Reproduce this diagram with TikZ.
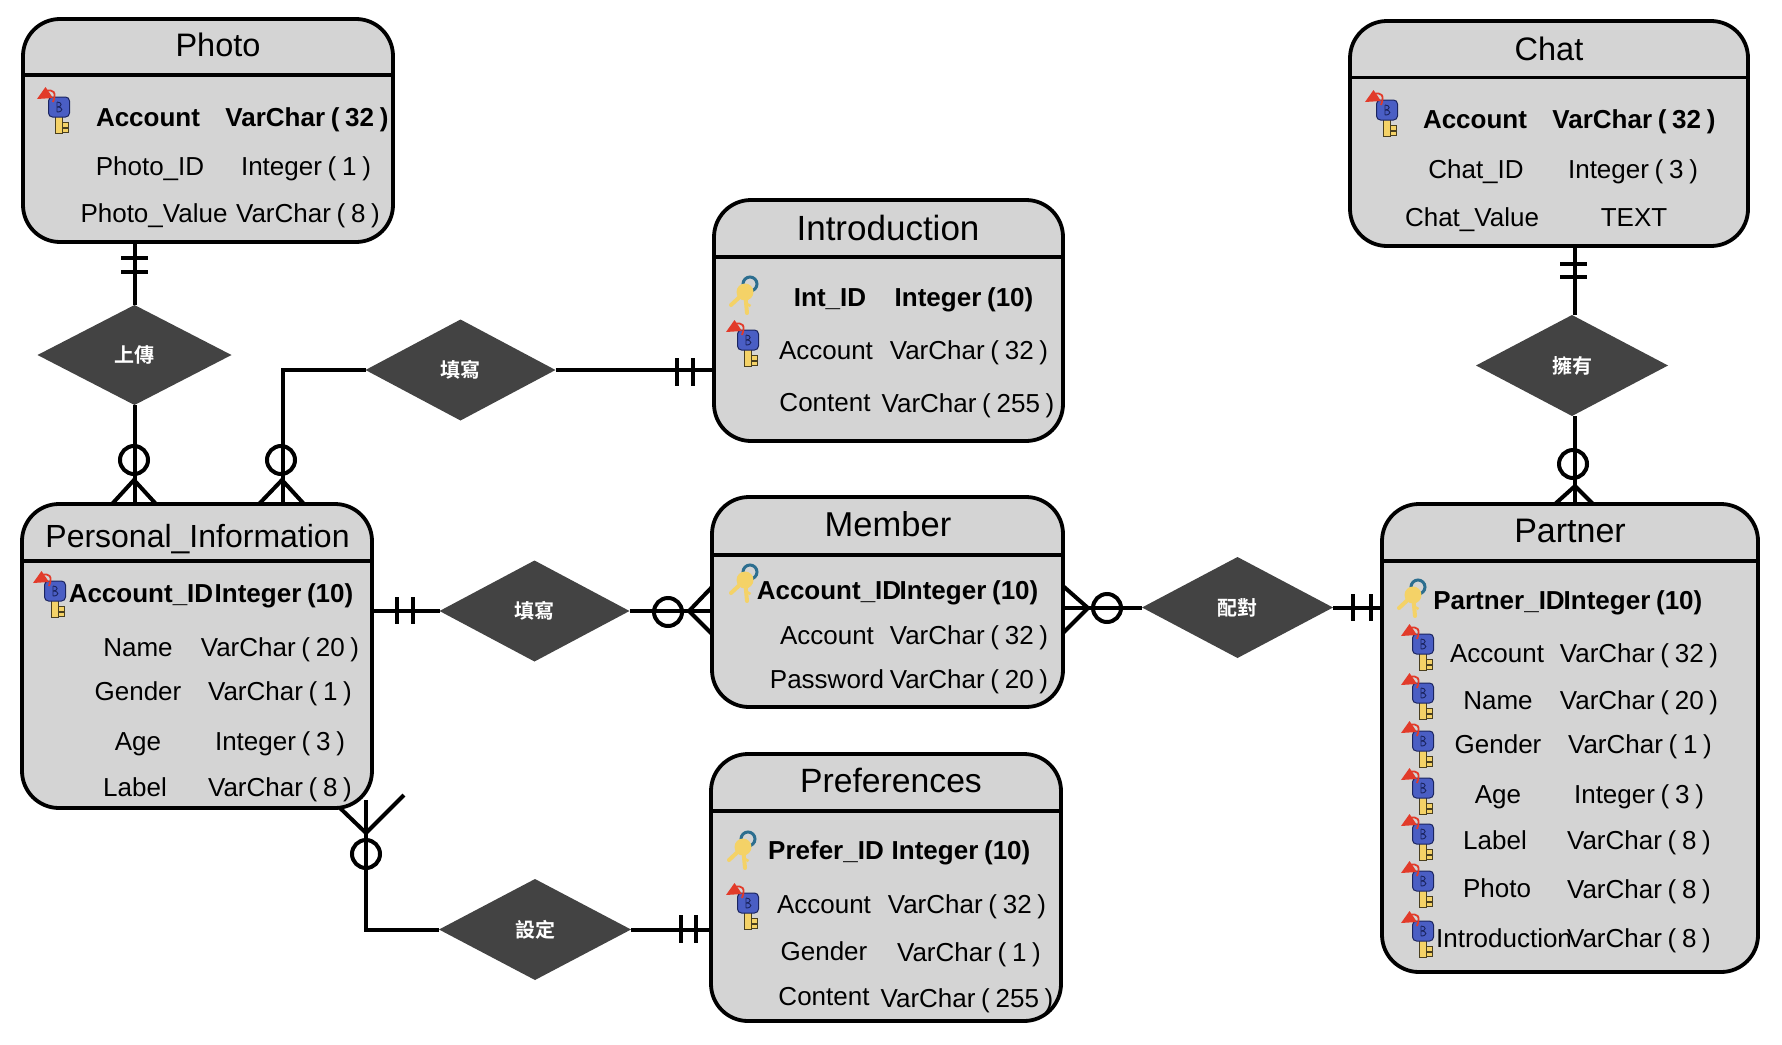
\documentclass[tikz,border=0pt]{standalone}
\usepackage{fontspec}
\setmainfont{Liberation Sans}
\newfontfamily\cjkfont{Noto Sans CJK TC}[BoldFont={* Bold}]
\usetikzlibrary{shapes.geometric}
\definecolor{boxgray}{HTML}{D4D4D4}
\definecolor{diagray}{HTML}{434343}
\definecolor{keyblue}{HTML}{4A5EC4}
\definecolor{keydark}{HTML}{1B2560}
\definecolor{keygold}{HTML}{F4D267}
\definecolor{keyred}{HTML}{E23B2A}
\definecolor{ringblue}{HTML}{2C6E8F}
\newcounter{tn}
\tikzset{
  x=1pt,y=-1pt,
  erbox/.style={draw=black,line width=3.8pt,fill=boxgray,rounded corners=37pt,outer sep=0pt,inner sep=0pt},
  erline/.style={line width=3.8pt},
  conn/.style={line width=4pt,draw=black},
  rel/.style={diamond,fill=diagray,draw=none,inner sep=0pt,outer sep=0pt,text=white,font=\cjkfont\bfseries\fontsize{20}{24}\selectfont},
  titletext/.style={inner sep=0pt,anchor=base},
  rowtext/.style={inner sep=0pt,anchor=base,font=\fontsize{26}{30}\selectfont},
  rowbold/.style={inner sep=0pt,anchor=base,font=\bfseries\fontsize{26}{30}\selectfont},
  pics/dbkey/.style={code={
    \draw[draw=black!70!keygold,fill=keygold,line width=.8pt] (-3.2,9) rectangle (3.2,26);
    \draw[draw=black!70!keygold,fill=keygold,line width=.8pt] (3,15) rectangle (9.5,20);
    \draw[draw=black!70!keygold,fill=keygold,line width=.8pt] (3,21) rectangle (9,25);
    \draw[draw=keydark,fill=keyblue,line width=1pt,rounded corners=4pt] (-10.5,-10) rectangle (10.5,10);
    \draw[keydark,line width=.9pt] (-2,-5) -- (-2,5) (-2,-5) .. controls (3.5,-5) and (3.5,0) .. (-2,0) (-2,0) .. controls (4.5,0) and (4.5,5) .. (-2,5);
    \fill[keyred] (-22,-8) -- (-13.5,-20) -- (-6,-9) -- cycle;
    \draw[keyred,line width=1.8pt] (-13,-16) .. controls (-6,-18) and (-2,-15) .. (-6,-5);
  }},
  pics/goldkeys/.style={code={
    \draw[keygold,line width=4pt,line cap=round] (0,0) -- (-14,13);
    \draw[keygold,line width=4pt,line cap=round] (0,0) -- (2,21);
    \draw[keygold,line width=2.5pt] (2,12) -- (5.5,14);
    \draw[ringblue,line width=3pt] (5,-8) circle (7pt);
    \fill[keygold] (0,0) circle (8.5pt);
  }}
}
\newcommand{\erentity}[9]{% name x1 y1 x2 y2 header-y title-x title-y title
  \node[erbox,minimum width={(#4-#2)*1pt},minimum height={(#5-#3)*1pt}] (#1) at ({(#2+#4)/2},{(#3+#5)/2}) {};
  \draw[erline] (#1.west |- 0,#6) -- (#1.east |- 0,#6);
  \node[titletext] (#1title) at (#7,{#8+11.5}) {#9};
}
\newcommand{\tightsp}{\spaceskip=.22em\relax}
\newcommand{\rowt}[3]{\stepcounter{tn}\node[rowtext] (t\arabic{tn}) at (#1,{#2+9}) {\tightsp #3};}
\newcommand{\rowb}[3]{\stepcounter{tn}\node[rowbold] (t\arabic{tn}) at (#1,{#2+9}) {\tightsp #3};}
\newcommand{\tsize}[1]{\fontsize{#1}{38}\selectfont}
\begin{document}
\begin{tikzpicture}
\useasboundingbox (0,0) rectangle (1782,1044);
% entities
\erentity{photo}{23}{19}{393}{242}{75}{218}{45}{\tsize{32.5}Photo}
\erentity{intro}{714}{200}{1063}{441}{257}{888}{229}{\tsize{35}Introduction}
\erentity{chat}{1350}{21}{1748}{246}{77.5}{1549}{49}{\tsize{32.5}Chat}
\erentity{pinf}{22}{504}{372}{808}{561}{197.5}{536}{\tsize{32}Personal\_Information}
\erentity{member}{712}{497}{1063}{707}{555}{888}{525}{\tsize{34.5}Member}
\erentity{prefs}{711}{754}{1061}{1021}{811}{891}{781}{\tsize{33.7}Preferences}
\erentity{partner}{1382}{504}{1758}{972}{561}{1570}{531}{\tsize{34}Partner}
% relationships
\node[rel,minimum width=194pt,minimum height=100pt] (up) at (134.5,355) {上傳};
\node[rel,minimum width=190pt,minimum height=101pt] (writeA) at (460.5,370) {填寫};
\node[rel,minimum width=190pt,minimum height=101pt] (writeB) at (534.5,611) {填寫};
\node[rel,minimum width=191pt,minimum height=101pt] (pair) at (1237.5,607.5) {配對};
\node[rel,minimum width=192pt,minimum height=101pt] (setp) at (535,929.5) {設定};
\node[rel,minimum width=192pt,minimum height=101pt] (own) at (1572,365.5) {擁有};
% connectors
\draw[conn] (photo.south -| up.north) -- (up.north);
\draw[conn] (up.south) -- (up.south |- pinf.north);
\coordinate (bendA) at (283,370);
\draw[conn] (writeA.west) -- (bendA) -- (bendA |- pinf.north);
\draw[conn] (writeA.east) -- (intro.west |- writeA.east);
\draw[conn] (pinf.east |- writeB.west) -- (writeB.west);
\draw[conn] (writeB.east) -- (member.west |- writeB.east);
\draw[conn] (member.east |- pair.west) -- (pair.west);
\draw[conn] (pair.east) -- (partner.west |- pair.east);
\coordinate (bendS) at (366,929.5);
\coordinate (freeS) at (366,800);
\draw[conn] (setp.west) -- (bendS) -- (freeS);
\draw[conn] (setp.east) -- (prefs.west |- setp.east);
\coordinate (ownX) at (1575,365.5);
\draw[conn] (chat.south -| ownX) -- (ownX |- own.north);
\draw[conn] (ownX |- own.south) -- (ownX |- partner.north);
% cardinality marks
\draw[conn] (121,258) -- (148,258) (121,272) -- (148,272);
\draw[conn] (134,460) circle (14pt);
\draw[conn] (112,504) -- (134,480) -- (156,504);
\draw[conn] (281,460) circle (14pt);
\draw[conn] (259,504) -- (282,480) -- (304,504);
\draw[conn] (677,358) -- (677,386) (693,358) -- (693,386);
\draw[conn] (397,597) -- (397,624) (413,597) -- (413,624);
\draw[conn] (668,612) circle (14pt);
\draw[conn] (712,587) -- (689,611) -- (712,634);
\draw[conn] (1063,586) -- (1088,608) -- (1063,633);
\draw[conn] (1107,608) circle (14pt);
\draw[conn] (1353,594) -- (1353,621) (1371,594) -- (1371,621);
\draw[conn] (1560,264) -- (1587,264) (1560,277) -- (1587,277);
\draw[conn] (1573,464) circle (14pt);
\draw[conn] (1555,504) -- (1575,486) -- (1593,504);
\draw[conn] (340,808) -- (366,833) -- (404,795);
\draw[conn] (366,854) circle (14pt);
\draw[conn] (681,915) -- (681,943) (696,915) -- (696,943);
% rows: Photo
\rowb{148}{117}{Account}\rowb{307}{117}{VarChar ( 32 )}
\rowt{150}{166}{Photo\_ID}\rowt{306}{166}{Integer ( 1 )}
\rowt{154}{213}{Photo\_Value}\rowt{308}{213}{VarChar ( 8 )}
% Introduction
\rowb{830}{297}{Int\_ID}\rowb{964}{297}{Integer (10)}
\rowt{826}{350}{Account}\rowt{969}{350}{VarChar ( 32 )}
\rowt{825}{402}{Content}\rowt{968}{403}{VarChar ( 255 )}
% Chat
\rowb{1475}{119}{Account}\rowb{1634}{119}{VarChar ( 32 )}
\rowt{1476}{169}{Chat\_ID}\rowt{1633}{169}{Integer ( 3 )}
\rowt{1472}{217}{Chat\_Value}\rowt{1634}{217}{TEXT}
% Personal_Information
\rowb{141}{593}{Account\_ID}\rowb{284}{593}{Integer (10)}
\rowt{138}{647}{Name}\rowt{280}{647}{VarChar ( 20 )}
\rowt{138}{691}{Gender}\rowt{280}{691}{VarChar ( 1 )}
\rowt{138}{741}{Age}\rowt{280}{741}{Integer ( 3 )}
\rowt{135}{787}{Label}\rowt{280}{787}{VarChar ( 8 )}
% Member
\rowb{829}{590}{Account\_ID}\rowb{969}{590}{Integer (10)}
\rowt{827}{635}{Account}\rowt{969}{635}{VarChar ( 32 )}
\rowt{827}{679}{Password}\rowt{969}{679}{VarChar ( 20 )}
% Preferences
\rowb{826}{850}{Prefer\_ID}\rowb{961}{850}{Integer (10)}
\rowt{824}{904}{Account}\rowt{967}{904}{VarChar ( 32 )}
\rowt{824}{951}{Gender}\rowt{969}{952}{VarChar ( 1 )}
\rowt{824}{996}{Content}\rowt{967}{998}{VarChar ( 255 )}
% Partner
\rowb{1499}{600}{Partner\_ID}\rowb{1633}{600}{Integer (10)}
\rowt{1497}{653}{Account}\rowt{1639}{653}{VarChar ( 32 )}
\rowt{1498}{700}{Name}\rowt{1639}{700}{VarChar ( 20 )}
\rowt{1498}{744}{Gender}\rowt{1640}{744}{VarChar ( 1 )}
\rowt{1498}{794}{Age}\rowt{1639}{794}{Integer ( 3 )}
\rowt{1495}{840}{Label}\rowt{1639}{840}{VarChar ( 8 )}
\rowt{1497}{888}{Photo}\rowt{1639}{889}{VarChar ( 8 )}
\rowt{1504}{938}{Introduction}\rowt{1639}{938}{VarChar ( 8 )}
% icons
\pic at (59,107) {dbkey};
\pic at (1387,110) {dbkey};
\pic at (55,591) {dbkey};
\pic at (748,340) {dbkey};
\pic at (748,903) {dbkey};
\foreach \ky in {644,693,741,788,834,881,931}{\pic at (1423,\ky) {dbkey};}
\pic at (745,292) {goldkeys};
\pic at (745,580) {goldkeys};
\pic at (743,847) {goldkeys};
\pic at (1413,595) {goldkeys};
\end{tikzpicture}
\end{document}
